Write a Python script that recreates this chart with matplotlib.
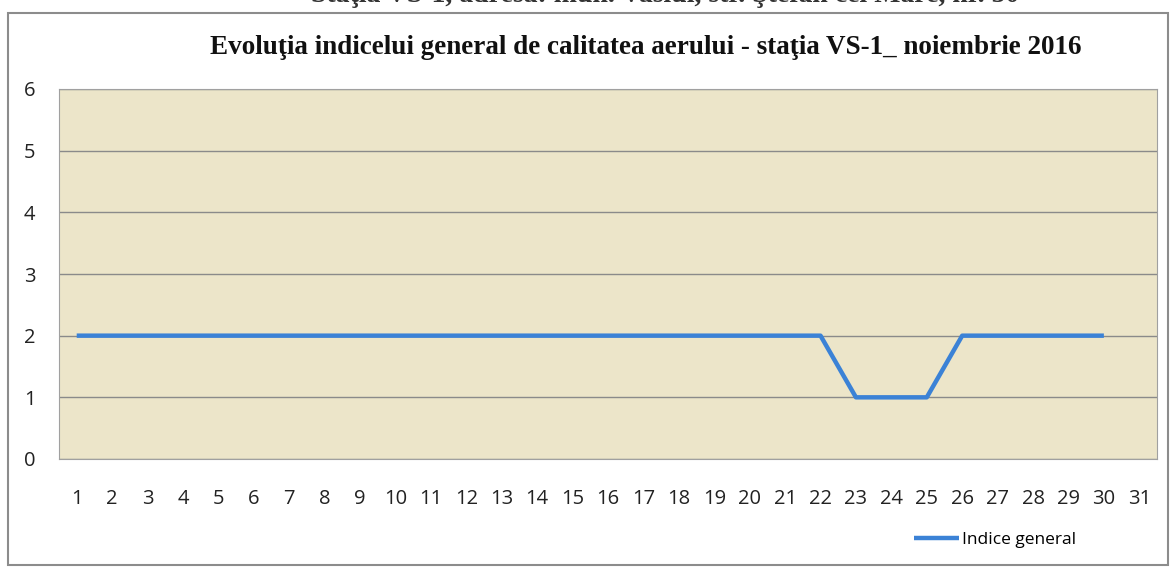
import matplotlib.pyplot as plt
from matplotlib.patches import Rectangle

# daily values, noiembrie 2016 (day 31 has no value)
days = list(range(1, 32))
indice = [2] * 22 + [1, 1, 1] + [2] * 5 + [None]
y_ticks = [0, 1, 2, 3, 4, 5, 6]

W, H = 1176, 568
fig = plt.figure(figsize=(W / 100, H / 100), dpi=100)
fig.patch.set_facecolor('white')

# outer chart frame
fig.patches.append(Rectangle((8 / W, 1 - 565 / H), 1160 / W, 552 / H,
                             transform=fig.transFigure, fill=False,
                             edgecolor='#8c8c8c', lw=1.5))

# header line of the page, cut off at the top of the scan
fig.text(665 / W, 1 + 4 / H, "Staţia VS-1, adresa: mun. Vaslui, str. Ştefan cel Mare, nr. 50",
         ha='center', va='center', family='Liberation Serif', fontweight='bold',
         fontsize=20, color='#333333')

ax = fig.add_axes([59 / W, 1 - 459 / H, (1157 - 59) / W, (459 - 89) / H])
ax.set_facecolor('#ece5c9')

xs = [d for d, v in zip(days, indice) if v is not None]
vs = [v for v in indice if v is not None]
ax.plot(xs, vs, color='#3b82d6', lw=3.2, solid_capstyle='butt', label='Indice general', zorder=3)

ax.set_xlim(0.5, 31.5)
ax.set_ylim(0, 6)
ax.set_xticks(days)
ax.set_xticklabels([str(d) for d in days])
ax.set_yticks(y_ticks)
ax.grid(axis='y', color='#8a8a8a', lw=1)
ax.set_axisbelow(True)
for s in ax.spines.values():
    s.set_color('#a0a0a0')
    s.set_linewidth(0.8)
ax.tick_params(axis='both', length=0, labelsize=14.5, colors='#222222')
ax.tick_params(axis='x', pad=21.5)
ax.tick_params(axis='y', pad=17)
for lab in ax.get_xticklabels() + ax.get_yticklabels():
    lab.set_family('Open Sans')

fig.text(646 / W, 1 - 48 / H,
         "Evoluţia indicelui general de calitatea aerului - staţia VS-1_ noiembrie 2016",
         ha='center', va='center', family='Liberation Serif', fontweight='bold',
         fontsize=19.5, color='#111111')

leg = ax.legend(loc='upper left', bbox_to_anchor=(905 / W, 1 - 523 / H),
                bbox_transform=fig.transFigure, frameon=False,
                prop={'family': 'Open Sans', 'size': 12.5}, handlelength=2.6,
                handletextpad=0.2, borderpad=0)

fig.savefig('out.png', dpi=100)
